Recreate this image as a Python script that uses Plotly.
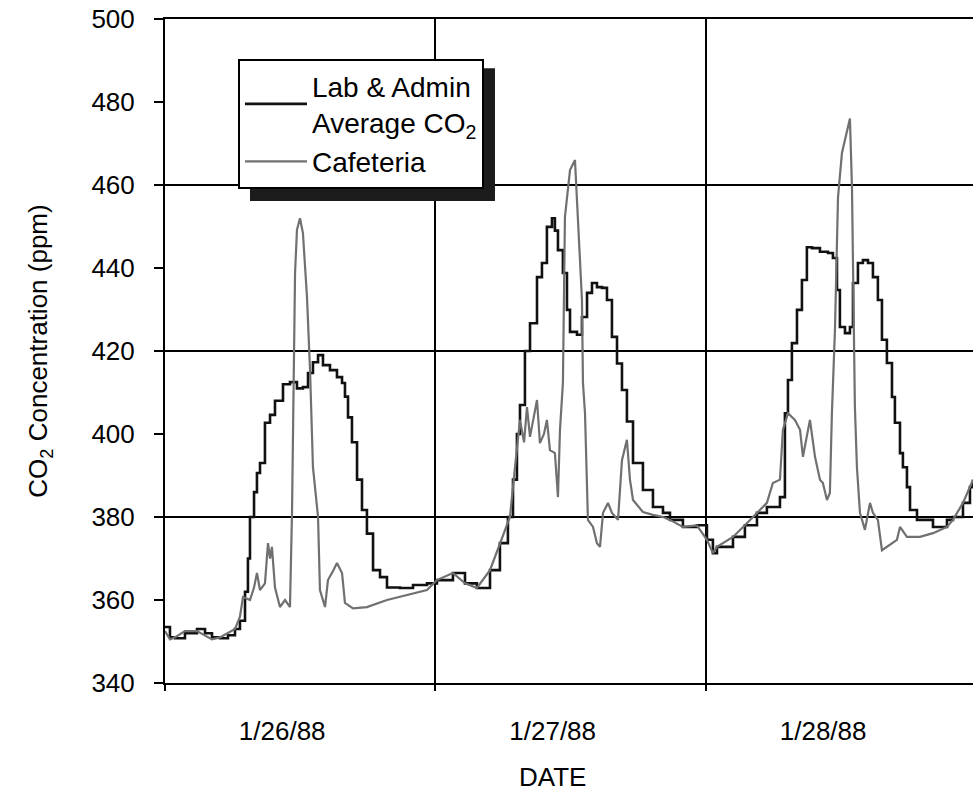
import plotly.graph_objects as go

# Hours elapsed since 1/26/88 00:00 and the measured CO2 level (ppm)
LAB_HOURS = [
    0.00, 0.44, 0.89, 1.77, 2.84, 3.55, 4.17, 4.88, 5.59, 6.21, 6.65, 7.10,
    7.36, 7.54, 7.90, 8.16, 8.43, 8.87, 9.32, 9.76, 10.47, 11.09, 11.71, 12.24,
    12.69, 13.13, 13.58, 14.02, 14.64, 15.26, 15.71, 15.97, 16.24, 16.59, 17.04,
    17.48, 17.92, 18.46, 19.08, 19.70, 20.85, 22.01, 23.25, 24.13, 25.55, 26.62,
    27.68, 28.84, 29.72, 30.43, 30.88, 31.23, 31.50, 31.94, 32.39, 33.01, 33.45,
    33.89, 34.34, 34.60, 34.87, 35.31, 35.67, 35.94, 36.56, 37.00, 37.45, 37.89,
    38.33, 38.78, 39.22, 39.66, 40.11, 40.55, 40.99, 41.53, 42.41, 43.30, 44.19,
    44.81, 45.96, 47.20, 48.09, 48.62, 48.98, 50.40, 51.46, 52.53, 53.41, 54.57,
    55.01, 55.28, 55.63, 56.08, 56.52, 56.96, 57.41, 58.12, 58.83, 59.27, 59.63,
    59.89, 60.34, 60.78, 61.05, 61.49, 61.93, 62.38, 62.82, 63.26, 63.62, 64.06,
    64.51, 64.77, 65.22, 65.48, 65.84, 66.11, 66.73, 68.15, 69.39, 69.92, 70.81,
    71.43, 71.70,
]
LAB_PPM = [
    353.5, 351.0, 350.8, 352.0, 353.0, 352.0, 351.0, 350.8, 351.5, 353.0, 355.0, 362.0,
    370.0, 380.0, 386.0, 390.6, 393.0, 402.7, 404.6, 408.0, 412.0, 412.5, 411.0, 411.3,
    414.7, 417.3, 419.0, 416.6, 415.4, 413.7, 412.3, 409.0, 404.0, 398.0, 389.0,
    381.7, 376.0, 367.2, 365.5, 363.0, 362.9, 363.6, 364.0, 364.8, 366.5, 364.0,
    362.9, 367.2, 373.7, 380.0, 389.0, 400.0, 407.0, 420.0, 426.7, 437.8, 441.2,
    449.9, 452.0, 449.0, 444.3, 438.8, 429.9, 424.6, 423.9, 428.2, 434.0, 436.4,
    435.4, 435.2, 432.3, 423.4, 417.0, 410.6, 403.0, 393.0, 386.5, 382.4, 381.0,
    379.3, 377.6, 378.0, 374.5, 371.3, 372.8, 375.2, 378.0, 381.0, 382.4, 384.8,
    405.0, 413.0, 421.9, 429.9, 437.1, 445.0, 444.8, 443.9, 443.6, 442.4, 434.7,
    425.8, 424.3, 425.8, 436.4, 441.2, 441.9, 441.2, 437.8, 432.3, 422.7, 417.1,
    408.9, 402.7, 395.4, 392.0, 387.2, 381.7, 379.3, 377.6, 379.3, 380.0, 383.4,
    387.2, 389.0,
]

CAF_HOURS = [
    0.00, 0.44, 0.89, 1.77, 2.84, 3.55, 4.17, 4.88, 5.59, 6.21, 6.65, 6.92,
    7.54, 7.90, 8.16, 8.43, 8.87, 9.14, 9.32, 9.49, 9.76, 10.20, 10.65, 11.09,
    11.27, 11.54, 11.71, 11.98, 12.24, 12.60, 12.87, 13.13, 13.58, 13.75, 14.20,
    14.46, 14.91, 15.26, 15.71, 15.97, 16.68, 17.92, 19.70, 21.47, 23.25, 24.13,
    25.55, 26.62, 27.68, 28.84, 29.72, 30.61, 31.06, 31.50, 31.86, 32.12, 32.39,
    32.74, 33.01, 33.27, 33.63, 33.89, 34.16, 34.60, 34.87, 35.05, 35.31, 35.49,
    35.94, 36.38, 36.65, 37.00, 37.09, 37.27, 37.53, 37.98, 38.33, 38.60, 38.87,
    39.31, 39.66, 40.20, 40.55, 40.99, 41.26, 41.53, 42.41, 43.30, 44.19, 44.81,
    45.96, 47.20, 48.09, 48.62, 48.98, 50.40, 51.46, 52.53, 53.41, 53.94, 54.57,
    54.83, 55.28, 55.90, 56.35, 56.61, 57.23, 57.68, 58.12, 58.38, 58.74, 59.00,
    59.18, 59.45, 59.72, 60.07, 60.52, 60.78, 60.96, 61.05, 61.22, 61.40, 61.67,
    62.11, 62.56, 62.82, 63.26, 63.62, 64.06, 64.95, 65.22, 65.84, 66.99, 68.15,
    69.39, 69.92, 70.81, 71.43, 71.70,
]
CAF_PPM = [
    352.5, 350.5, 351.0, 352.5, 352.5, 351.5, 350.5, 351.0, 352.0, 353.0, 356.0, 360.7,
    360.0, 363.0, 366.5, 362.4, 364.0, 373.7, 370.0, 372.8, 363.0, 358.3, 360.0, 358.3,
    381.0, 438.8, 449.2, 452.0, 448.4, 433.0, 415.4, 392.0, 380.0, 362.4, 358.3,
    364.8, 367.0, 368.9, 366.5, 359.3, 358.0, 358.3, 360.0, 361.2, 362.4, 364.8,
    366.5, 364.0, 362.9, 367.2, 373.7, 380.0, 392.0, 403.4, 398.0, 406.5, 399.3,
    404.0, 408.2, 397.8, 400.0, 403.4, 396.1, 395.4, 384.8, 401.0, 412.3, 452.3,
    463.6, 466.0, 452.3, 432.3, 412.3, 405.0, 379.3, 377.6, 373.7, 372.8, 381.0,
    383.4, 381.0, 379.3, 393.7, 398.6, 389.0, 384.1, 381.2, 380.5, 380.0, 379.3,
    377.6, 378.0, 374.5, 371.3, 372.8, 375.2, 378.0, 381.0, 383.4, 388.2, 389.0,
    401.0, 405.0, 403.4, 401.0, 394.5, 403.4, 394.5, 389.0, 388.2, 384.1, 385.8,
    405.0, 425.0, 457.0, 467.7, 473.3, 476.0, 459.5, 436.4, 406.5, 392.0, 381.0,
    376.9, 383.4, 381.0, 379.3, 372.0, 372.8, 374.5, 377.6, 375.2, 375.2, 376.1,
    377.6, 379.3, 383.4, 387.2, 389.0,
]

DATE_LABELS = ["1/26/88", "1/27/88", "1/28/88"]
DATE_LABEL_HOURS = [10.4, 34.4, 58.4]
PPM_TICKS = [340, 360, 380, 400, 420, 440, 460, 480, 500]
GRID_PPM = [380, 420, 460]

FONT = "Liberation Sans, Arial, Helvetica, sans-serif"

fig = go.Figure()

fig.add_trace(go.Scatter(
    x=LAB_HOURS, y=LAB_PPM, mode="lines", line_shape="hv",
    name="Lab & Admin<br>Average CO<sub>2</sub>",
    line=dict(color="#111111", width=2.6),
    legendrank=1,
))
fig.add_trace(go.Scatter(
    x=CAF_HOURS, y=CAF_PPM, mode="lines",
    name="Cafeteria",
    line=dict(color="#707070", width=2.2),
    legendrank=2,
))

# horizontal grid every 40 ppm
shapes = [
    dict(type="line", xref="x domain", x0=0, x1=1, yref="y", y0=v, y1=v,
         line=dict(color="black", width=2), layer="below")
    for v in GRID_PPM
]
# drop shadow behind the legend box
shapes.append(dict(type="rect", xref="paper", yref="paper",
                   x0=0.1052, x1=0.4084, y0=0.7259, y1=0.926,
                   fillcolor="#1c1c1c", line=dict(width=0), layer="above"))

fig.update_layout(
    width=973, height=791,
    margin=dict(l=165, r=0, t=19, b=108),
    paper_bgcolor="white", plot_bgcolor="white",
    font=dict(family=FONT, color="black", size=26),
    showlegend=True,
    legend=dict(x=0.0903, y=0.9398, xanchor="left", yanchor="top",
                bgcolor="white", bordercolor="black", borderwidth=2,
                font=dict(size=28), tracegroupgap=0, itemwidth=62),
    shapes=shapes,
    annotations=[dict(text="DATE", x=DATE_LABEL_HOURS[1], xref="x",
                      y=-0.1416, yref="paper", yanchor="middle",
                      showarrow=False, font=dict(size=26))],
)

fig.update_xaxes(
    range=[0, 71.7],
    tickvals=DATE_LABEL_HOURS, ticktext=DATE_LABELS,
    ticks="", showgrid=False, zeroline=False,
    showline=True, linecolor="black", linewidth=2, mirror=True,
    ticklabelstandoff=24,
    minor=dict(tick0=0, dtick=24, showgrid=True, gridcolor="black",
               gridwidth=2, ticks="outside", ticklen=6,
               tickcolor="black", tickwidth=2),
)
fig.update_yaxes(
    range=[340, 500], tickvals=PPM_TICKS,
    ticks="outside", ticklen=9, tickwidth=2, tickcolor="black",
    showgrid=False, zeroline=False,
    showline=True, linecolor="black", linewidth=2,
    ticklabelstandoff=14,
    title=dict(text="CO<sub>2</sub> Concentration (ppm)", standoff=36,
               font=dict(size=26)),
)

fig.write_html("out.html")
